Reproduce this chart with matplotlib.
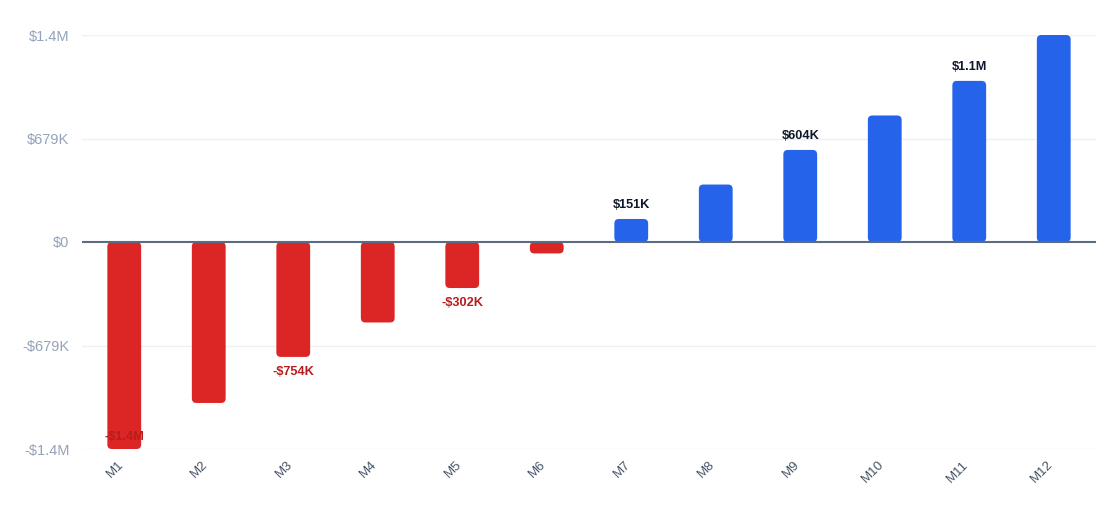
import numpy as np
import matplotlib.pyplot as plt
from matplotlib.patches import FancyBboxPatch
from matplotlib.transforms import ScaledTranslation

plt.rcParams['font.family'] = ['Liberation Sans', 'DejaVu Sans']

# data
months = ["M1", "M2", "M3", "M4", "M5", "M6", "M7", "M8", "M9", "M10", "M11", "M12"]
values = [-1358000, -1056000, -754000, -528000, -302000, -75000,
          151000, 377000, 604000, 830000, 1057000, 1358000]
y_ticks = [-1358000, -679000, 0, 679000, 1358000]

RED = "#dc2626"
BLUE = "#2563eb"


def money(v):
    s = "-" if v < 0 else ""
    a = abs(v)
    if a == 0:
        return "$0"
    if a >= 1e6:
        return f"{s}${a / 1e6:.1f}M"
    return f"{s}${a / 1e3:.0f}K"


W, H, DPI = 1120, 531, 100
fig = plt.figure(figsize=(W / DPI, H / DPI), dpi=DPI)
left, right, top, bottom = 82, 1096, 35, 449
ax = fig.add_axes([left / W, 1 - bottom / H, (right - left) / W, (bottom - top) / H])

n = len(months)
ymin, ymax = y_ticks[0], y_ticks[-1]
ax.set_xlim(-0.5, n - 0.5)
ax.set_ylim(ymin, ymax)

# rounding of the bar corners: same pixel radius in x and y
px_x = n / (right - left)
px_y = (ymax - ymin) / (bottom - top)
aspect = px_y / px_x
r = 4.5 * px_x
bw = 0.4

x = np.arange(n)
for xi, v in zip(x, values):
    patch = FancyBboxPatch((xi - bw / 2, min(0, v)), bw, abs(v),
                           boxstyle=f"round,pad=0,rounding_size={r}",
                           mutation_aspect=aspect, fc=RED if v < 0 else BLUE,
                           ec="none", clip_on=False, zorder=2)
    ax.add_patch(patch)

# value labels on every other bar
for i, v in enumerate(values):
    if i % 2:
        continue
    if v >= 0:
        ax.annotate(money(v), (x[i], v), xytext=(0, 5.5), textcoords="offset points",
                    ha="center", va="bottom", fontsize=9.2, fontweight="bold",
                    color="#0f172a", zorder=4)
    elif v - 20 * px_y < ymin:
        ax.annotate(money(v), (x[i], ymin), xytext=(0, 4), textcoords="offset points",
                    ha="center", va="bottom", fontsize=9.2, fontweight="bold",
                    color="#b91c1c", zorder=4)
    else:
        ax.annotate(money(v), (x[i], v), xytext=(0, -6.5), textcoords="offset points",
                    ha="center", va="top", fontsize=9.2, fontweight="bold",
                    color="#b91c1c", zorder=4)

ax.axhline(0, color="#5b6b82", lw=1.5, zorder=3)
for t in y_ticks:
    if t != 0:
        ax.axhline(t, color="#eef0f5", lw=1, zorder=0)

for s in ax.spines.values():
    s.set_visible(False)

ax.set_yticks(y_ticks)
ax.set_yticklabels([money(t) for t in y_ticks])
ax.tick_params(axis="y", length=0, pad=9, labelsize=10.5, labelcolor="#94a3b8")
ax.set_xticks(x)
ax.set_xticklabels(months, rotation=45, ha="right", va="center", rotation_mode="anchor")
ax.tick_params(axis="x", length=0, pad=10, labelsize=9.5, labelcolor="#475569")
shift = ScaledTranslation(-2 / 72, 0, fig.dpi_scale_trans)
for lab in ax.get_xticklabels():
    lab.set_transform(lab.get_transform() + shift)

fig.savefig("out.png", dpi=DPI)
